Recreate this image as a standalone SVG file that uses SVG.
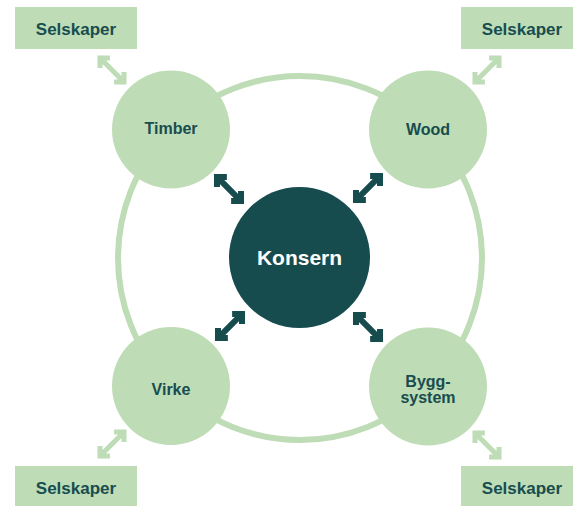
<svg xmlns="http://www.w3.org/2000/svg" width="573" height="506" viewBox="0 0 573 506">
  <style>
    .lt { fill: #bedcb5; }
    .ring { fill: none; stroke: #bedcb5; stroke-width: 6; }
    .lbl { font-family: "Liberation Sans", Arial, sans-serif; font-weight: bold; fill: #184d50; text-anchor: middle; }
    .big { font-family: "Liberation Sans", Arial, sans-serif; font-weight: bold; fill: #ffffff; text-anchor: middle; font-size: 21px; }
  </style>
  <defs>
    <path id="arr" d="M -17 0 L 17 0 M -10 -7 L -17 0 L -10 7 M 10 -7 L 17 0 L 10 7" fill="none" stroke-linejoin="miter" stroke-linecap="butt"/>
  </defs>
  <rect width="573" height="506" fill="#ffffff"/>
  <g id="connectors">
    <circle class="ring" cx="300" cy="258" r="182"/>
    <g stroke="#174c4f" stroke-width="6">
      <use href="#arr" transform="translate(229,189) rotate(45)"/>
      <use href="#arr" transform="translate(368,188) rotate(-45)"/>
      <use href="#arr" transform="translate(230,326) rotate(-45)"/>
      <use href="#arr" transform="translate(368,327) rotate(45)"/>
    </g>
    <g stroke="#bedcb5" stroke-width="5">
      <use href="#arr" transform="translate(112,70) rotate(45)"/>
      <use href="#arr" transform="translate(487,70) rotate(-45)"/>
      <use href="#arr" transform="translate(112,444) rotate(-45)"/>
      <use href="#arr" transform="translate(487,445) rotate(45)"/>
    </g>
  </g>
  <g id="konsern">
    <circle cx="299.5" cy="257.5" r="70.5" fill="#174c4f"/>
    <text class="big" x="299.5" y="265">Konsern</text>
  </g>
  <g id="timber">
    <circle class="lt" cx="171" cy="129.5" r="59"/>
    <text class="lbl" x="171" y="134" font-size="16">Timber</text>
  </g>
  <g id="wood">
    <circle class="lt" cx="428" cy="129.5" r="59"/>
    <text class="lbl" x="428" y="135" font-size="16">Wood</text>
  </g>
  <g id="virke">
    <circle class="lt" cx="171" cy="386" r="59"/>
    <text class="lbl" x="171" y="395" font-size="16">Virke</text>
  </g>
  <g id="byggsystem">
    <circle class="lt" cx="428" cy="386.5" r="59"/>
    <text class="lbl" x="428" y="387" font-size="16">Bygg-</text>
    <text class="lbl" x="428" y="403" font-size="16">system</text>
  </g>
  <g id="selskaper-tl">
    <rect class="lt" x="15" y="7" width="122" height="42"/>
    <text class="lbl" x="76" y="35" font-size="17">Selskaper</text>
  </g>
  <g id="selskaper-tr">
    <rect class="lt" x="461" y="7" width="122" height="42"/>
    <text class="lbl" x="522" y="35" font-size="17">Selskaper</text>
  </g>
  <g id="selskaper-bl">
    <rect class="lt" x="15" y="466" width="122" height="42"/>
    <text class="lbl" x="76" y="494" font-size="17">Selskaper</text>
  </g>
  <g id="selskaper-br">
    <rect class="lt" x="461" y="466" width="122" height="42"/>
    <text class="lbl" x="522" y="494" font-size="17">Selskaper</text>
  </g>
</svg>
